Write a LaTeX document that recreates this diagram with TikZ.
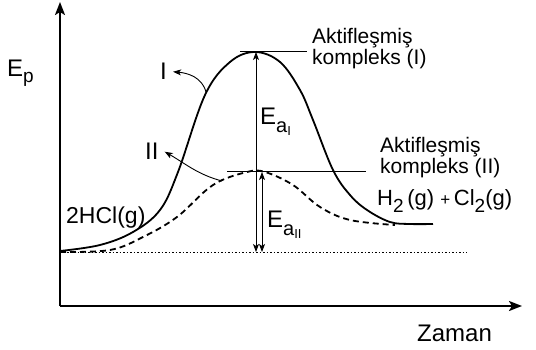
\documentclass[tikz,border=0pt]{standalone}
\usepackage{fontspec}
\setmainfont{Liberation Sans}
\usetikzlibrary{positioning,arrows.meta}
% lowered subscript: size, drop, text
\newcommand{\lowered}[3]{\raisebox{-#2}{\fontsize{#1}{#1}\selectfont #3}}

\begin{document}
\begin{tikzpicture}[x=1pt, y=-1pt, font=\fontsize{21}{19}\selectfont, align=left, inner sep=0pt,
    axis/.style={line width=2.2pt, -{Stealth[length=13pt,width=10pt,inset=3pt]}},
    curve/.style={line width=1.8pt, line join=round},
    thinline/.style={line width=0.8pt},
    tip/.style={line width=0.9pt, -{Stealth[length=8pt,width=6pt,inset=2pt]}},
    both/.style={line width=0.9pt, {Stealth[length=8pt,width=6pt,inset=2pt]}-{Stealth[length=8pt,width=6pt,inset=2pt]}},
    big/.style={font=\fontsize{24}{26}\selectfont}]
    \useasboundingbox (0,0) rectangle (536,350);

    % axes
    \coordinate (origin) at (60,306);
    \coordinate (ytop) at (60,2);
    \coordinate (xend) at (522,306);
    \draw [axis] (origin) -- (ytop);
    \draw [axis] (origin) -- (xend);
    \node (ep) [big, anchor=base west] at (7,77) {E\lowered{19}{6pt}{p}};
    \node (zaman) [big, anchor=base west] at (417,341) {Zaman};

    % base level and peaks
    \coordinate (base) at (60,252);
    \coordinate (baseend) at (467,252);
    \coordinate (peakI) at (256,52);
    \coordinate (peakII) at (262,172);
    \draw [thinline, dash pattern=on 1.5pt off 2pt] (base) -- (baseend);

    % curves
    \draw [curve] plot [smooth, tension=0.6] coordinates {(60,251) (100,245) (133,232) (160,210) (178,172) (205,95) (230,62) (255,52) (280,62) (300,90) (313,120) (333,170) (350,195) (367,210) (390,222) (410,224) (433,224)};
    \draw [curve, dash pattern=on 6pt off 4pt] plot [smooth, tension=0.6] coordinates {(60,252) (110,250) (143,237) (177,217) (213,185) (247,172) (265,172) (293,185) (320,207) (350,220) (395,225)};

    % activated complexes
    \coordinate (lineIa) at (240,51);
    \coordinate (lineIb) at (307,51);
    \coordinate (lineIIa) at (227,171);
    \coordinate (lineIIb) at (366,171);
    \draw [thinline] (lineIa) -- (lineIb);
    \draw [thinline] (lineIIa) -- (lineIIb);
    \node (aktifI) [anchor=north west] at (312,28) {Aktifleşmiş\\kompleks (I)};
    \node (aktifII) [anchor=north west] at (380,137) {Aktifleşmiş\\kompleks (II)};

    % activation energies
    \coordinate (eaIbot) at (256,252);
    \coordinate (eaIIbot) at (262,252);
    \draw [both] (eaIbot) -- (peakI);
    \draw [both] (eaIIbot) -- (peakII);
    \node (eaI) [big, anchor=base west] at (260,125) {E\lowered{20}{8pt}{a\lowered{13}{3pt}{I}}};
    \node (eaII) [big, anchor=base west] at (267,228) {E\lowered{20}{8pt}{a\lowered{13}{3pt}{II}}};

    % species
    \node (reactant) [font=\fontsize{23}{25}\selectfont, anchor=base west] at (66,224) {2HCl(g)};
    \node (product) [font=\fontsize{22}{24}\selectfont, anchor=base west] at (377,206) {H\lowered{19}{7pt}{2}\,(g) {\fontsize{17}{17}\selectfont +}\,Cl\lowered{19}{7pt}{2}(g)};

    % curve labels
    \node (lblI) [big, anchor=base west] at (160,80) {I};
    \node (lblII) [big, anchor=base west] at (145,160) {II};
    \coordinate (onI) at (206,92);
    \coordinate (onII) at (222,181);
    \draw [tip] (onI) to [out=105, in=-5] ([xshift=6pt]lblI.east);
    \draw [tip] (onII) to [out=165, in=-30] ([xshift=6pt]lblII.east);
\end{tikzpicture}
\end{document}
